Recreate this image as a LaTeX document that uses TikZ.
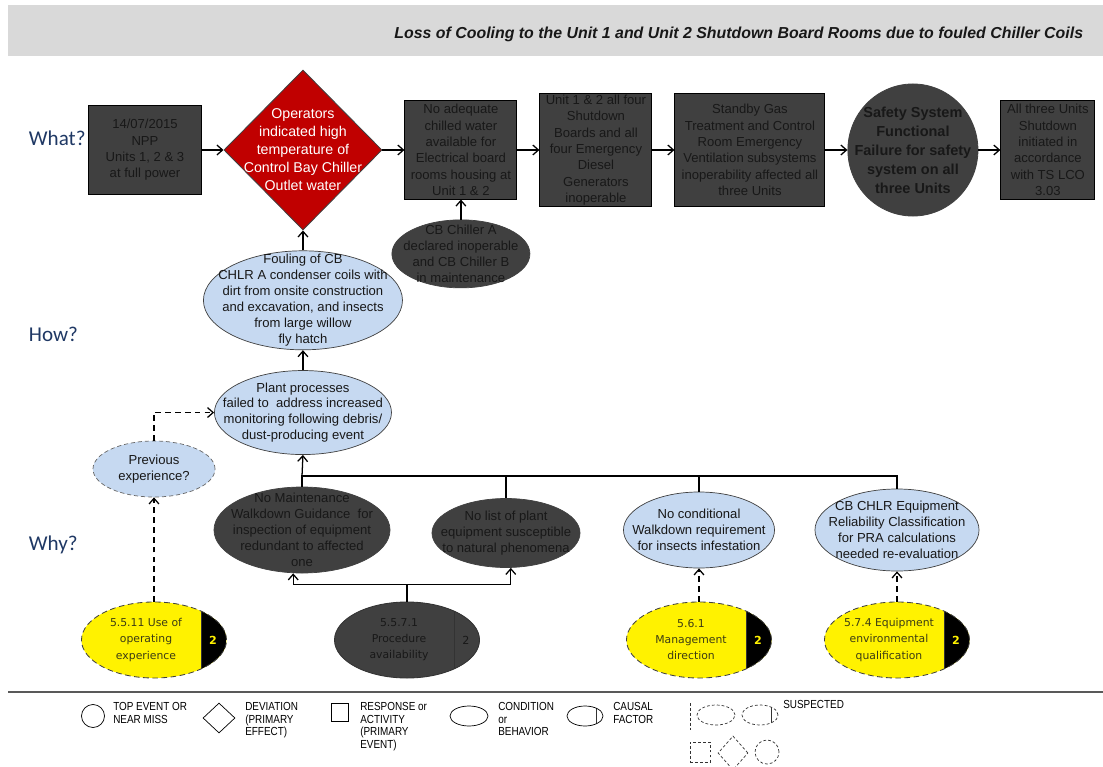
\documentclass[tikz,border=0pt]{standalone}
\usepackage{fontspec}
\setmainfont{Liberation Sans}
\newfontfamily\askfont{Carlito}
\newfontfamily\cffont{DejaVu Sans}
\newfontfamily\legfont[FakeStretch=0.85]{Liberation Sans}
\usepackage{tikz}
\usetikzlibrary{shapes.geometric,arrows.meta,positioning,calc}

\definecolor{boxgrey}{RGB}{64,64,64}
\definecolor{inkgrey}{RGB}{24,24,24}
\definecolor{condblue}{RGB}{198,217,241}
\definecolor{devred}{RGB}{192,0,0}
\definecolor{askblue}{RGB}{31,56,100}
\definecolor{bandgrey}{RGB}{217,217,217}
\definecolor{cfink}{RGB}{60,60,20}

\begin{document}
\begin{tikzpicture}[
  x=0.025cm, y=-0.025cm,
  font=\fontsize{9.3}{11.6}\selectfont,
  >={Straight Barb[length=4pt,width=7pt]},
  act/.style={rectangle, draw=black, line width=0.7pt, fill=boxgrey, text=inkgrey,
              align=center, inner sep=0pt},
  dev/.style={diamond, draw=black!75, line width=0.6pt, fill=devred, inner sep=0pt},
  devtxt/.style={align=center, inner sep=0pt, text=white, font=\fontsize{10.1}{12.8}\selectfont},
  topev/.style={ellipse, draw=black!75, line width=0.6pt, fill=boxgrey, inner sep=0pt},
  toptxt/.style={align=center, inner sep=0pt, text=inkgrey, font=\fontsize{10.3}{13.5}\selectfont\bfseries},
  cond/.style={ellipse, draw=black!75, line width=0.5pt, fill=condblue, inner sep=0pt},
  darkcond/.style={cond, fill=boxgrey},
  suscond/.style={cond, draw=black!60, dash pattern=on 3pt off 2pt},
  txt/.style={align=center, inner sep=0pt, text=inkgrey, font=\fontsize{9.3}{11.3}\selectfont},
  chord/.style={path picture={
    \fill[#1] ($(path picture bounding box.north)!0.65!(path picture bounding box.north east)$)
      rectangle (path picture bounding box.south east);
    \draw[black!80, solid] ($(path picture bounding box.north)!0.65!(path picture bounding box.north east)$)
      -- ($(path picture bounding box.south)!0.65!(path picture bounding box.south east)$);}},
  cause/.style={ellipse, minimum width=3.625cm, minimum height=1.9cm, inner sep=0pt,
                draw=black!80, line width=0.6pt, fill=boxgrey, chord=boxgrey},
  suscause/.style={cause, fill=yellow, draw=black!75, dash pattern=on 4pt off 2.5pt, chord=black},
  cftxt/.style={align=center, inner sep=0pt, font=\cffont\fontsize{7.7}{11.4}\selectfont,
                text=cfink, xshift=-0.2cm},
  cfnum/.style={inner sep=0pt, font=\cffont\fontsize{7.9}{9}\selectfont\bfseries, text=yellow, xshift=1.475cm},
  cfnumdark/.style={cfnum, font=\cffont\fontsize{7.9}{9}\selectfont, text=inkgrey},
  ask/.style={anchor=west, text=askblue, font=\askfont\fontsize{15}{18}\selectfont},
  link/.style={->, line width=0.9pt},
  susp/.style={->, line width=0.9pt, dash pattern=on 4pt off 3pt},
  tree/.style={line width=0.9pt},
  leg/.style={draw=black, line width=0.5pt, inner sep=0pt},
  legdash/.style={dash pattern=on 2pt off 1.5pt, draw=black!80},
  legtxt/.style={anchor=north west, align=left, inner sep=0pt, font=\legfont\fontsize{8.3}{9}\selectfont},
]
\useasboundingbox (0,0) rectangle (1103,767);

% banner
\fill[bandgrey] (8,5) rectangle (1103,56);
\node[anchor=east, text=inkgrey, font=\fontsize{11.3}{13}\selectfont\bfseries\itshape] (title) at (1088,34)
  {Loss of Cooling to the Unit 1 and Unit 2 Shutdown Board Rooms due to fouled Chiller Coils};

\node[ask] (what) at (24,138) {What?};
\node[ask] (how)  at (24,334) {How?};
\node[ask] (why)  at (24,545) {Why?};

% what
\node[act, minimum width=2.8cm, minimum height=2.2cm] (npp) at (145,150)
  {14/07/2015\\NPP\\Units 1, 2 \& 3\\at full power};
\node[dev, minimum width=3.95cm, minimum height=4cm, right=0.55cm of npp,
      label={[devtxt]center:{Operators\\indicated high\\temperature of\\Control Bay Chiller\\Outlet water}}] (operators) {};
\node[act, minimum width=2.8cm, minimum height=2.45cm, right=0.55cm of operators] (nowater)
  {No adequate\\chilled water\\available for\\Electrical board\\rooms housing at\\Unit 1 \& 2};
\node[act, minimum width=2.8cm, minimum height=2.8cm, right=0.55cm of nowater] (boards)
  {Unit 1 \& 2 all four\\Shutdown\\Boards and all\\four Emergency\\Diesel\\Generators\\inoperable};
\node[act, minimum width=3.75cm, minimum height=2.8cm, right=0.55cm of boards] (sgtcrev)
  {Standby Gas\\Treatment and Control\\Room Emergency\\Ventilation subsystems\\inoperability affected all\\three Units};
\node[topev, minimum width=3.25cm, minimum height=3.3cm, right=0.55cm of sgtcrev,
      label={[toptxt]center:{Safety System\\Functional\\Failure for safety\\system on all\\three Units}}] (ssff) {};
\node[act, minimum width=2.35cm, minimum height=2.45cm, right=0.55cm of ssff] (shutdown)
  {All three Units\\Shutdown\\initiated in\\accordance\\with TS LCO\\3.03};

% how
\node[darkcond, minimum width=3.45cm, minimum height=1.7cm, below=0.5cm of nowater,
      label={[txt]center:{CB Chiller A\\declared inoperable\\and CB Chiller B\\in maintenance}}] (chiller) {};
\node[cond, minimum width=4.975cm, minimum height=2.475cm, below=0.5cm of operators,
      label={[txt]center:{Fouling of CB\\CHLR A condenser coils with\\dirt from onsite construction\\and excavation, and insects\\from large willow\\fly hatch}}] (fouling) {};
\node[cond, minimum width=4.425cm, minimum height=2.1cm, below=0.5cm of fouling,
      label={[txt]center:{Plant processes\\failed to~ address increased\\monitoring following debris/\\dust-producing event}}] (plantproc) {};

% why
\node[suscond, minimum width=3.05cm, minimum height=1.4cm,
      label={[txt]center:{Previous\\experience?}}] (prevexp) at (154,469) {};
\node[darkcond, minimum width=4.4cm, minimum height=2.15cm,
      label={[txt]center:{No Maintenance\\Walkdown Guidance~ for\\inspection of equipment\\redundant to affected\\one}}] (nowalk) at (302,530) {};
\node[darkcond, minimum width=3.7cm, minimum height=1.725cm,
      label={[txt]center:{No list of plant\\equipment susceptible\\to natural phenomena}}] (nolist) at (506,533) {};
\node[cond, minimum width=3.775cm, minimum height=1.9cm,
      label={[txt]center:{No conditional\\Walkdown requirement\\for insects infestation}}] (nocond) at (699,530) {};
\node[cond, minimum width=4.1cm, minimum height=2.05cm,
      label={[txt]center:{CB CHLR Equipment\\Reliability Classification\\for PRA calculations\\needed re-evaluation}}] (reclass) at (897,530) {};

% causal factors
\node[suscause, label={[cftxt]center:{5.5.11 Use of\\operating\\experience}},
      label={[cfnum]center:2}] (cfopexp) at (154,640) {};
\node[cause, label={[cftxt, text=inkgrey]center:{5.5.7.1\\Procedure\\availability}},
      label={[cfnumdark]center:2}] (cfproc) at (407,640) {};
\node[suscause, label={[cftxt]center:{5.6.1\\Management\\direction}},
      label={[cfnum]center:2}] (cfmgmt) at (699,640) {};
\node[suscause, label={[cftxt]center:{5.7.4 Equipment\\environmental\\qualification}},
      label={[cfnum]center:2}] (cfqual) at (897,640) {};

\draw[link] (npp) -- (operators);
\draw[link] (operators) -- (nowater);
\draw[link] (nowater) -- (boards);
\draw[link] (boards) -- (sgtcrev);
\draw[link] (sgtcrev) -- (ssff);
\draw[link] (ssff) -- (shutdown);
\draw[link] (chiller) -- (nowater);
\draw[link] (fouling) -- (operators);
\draw[link] (plantproc) -- (fouling);

\coordinate (bus) at (302,476);
\draw[link] (bus) -- (plantproc.south);
\draw[tree] (nowalk.north) -- (bus) -| (reclass.north);
\draw[tree] (bus -| nolist.north) -- (nolist.north);
\draw[tree] (bus -| nocond.north) -- (nocond.north);

\draw[link] (cfproc.north) -- ++(0,-17) coordinate (split) -| ([xshift=-0.22cm]nowalk.south);
\draw[link] (split) -| ([xshift=0.12cm]nolist.south);

\draw[susp] (cfopexp) -- (prevexp);
\draw[susp] (prevexp.north) |- (plantproc.west);
\draw[susp] (cfmgmt) -- (nocond);
\draw[susp] (cfqual) -- (reclass);

% legend
\draw[line width=1.2pt, black!65] (8,692) -- (1103,692);
\node[leg, circle, minimum size=0.575cm] (lgtop) at (93,716) {};
\node[legtxt] (lgtoptxt) at (113,702) {TOP EVENT OR\\NEAR MISS};
\node[leg, diamond, minimum width=0.8cm, minimum height=0.75cm] (lgdev) at (219,718) {};
\node[legtxt] (lgdevtxt) at (245,702) {DEVIATION\\(PRIMARY\\EFFECT)};
\node[leg, rectangle, minimum width=0.425cm, minimum height=0.45cm] (lgact) at (340,712) {};
\node[legtxt] (lgacttxt) at (360,702) {RESPONSE or\\ACTIVITY\\(PRIMARY\\EVENT)};
\node[leg, ellipse, minimum width=0.95cm, minimum height=0.5cm] (lgcond) at (469,716) {};
\node[legtxt] (lgcondtxt) at (498,702) {CONDITION\\or\\BEHAVIOR};
\node[leg, ellipse, minimum width=0.9cm, minimum height=0.5cm, chord=white] (lgcause) at (585,716) {};
\node[legtxt] (lgcausetxt) at (613,702) {CAUSAL\\FACTOR};
\draw[legdash, line width=0.5pt] (690,703) -- (690,732);
\node[leg, legdash, ellipse, minimum width=0.95cm, minimum height=0.5cm] (lgsuscond) at (716,715) {};
\node[leg, legdash, ellipse, minimum width=0.9cm, minimum height=0.5cm, chord=white] (lgsuscause) at (760,715) {};
\node[legtxt] (lgsustxt) at (783,700) {SUSPECTED};
\node[leg, legdash, rectangle, minimum size=0.5cm] (lgsusact) at (700,752) {};
\node[leg, legdash, diamond, minimum width=0.75cm, minimum height=0.85cm] (lgsusdev) at (733,753) {};
\node[leg, legdash, circle, minimum size=0.6cm] (lgsustop) at (767,752) {};

\end{tikzpicture}
\end{document}
